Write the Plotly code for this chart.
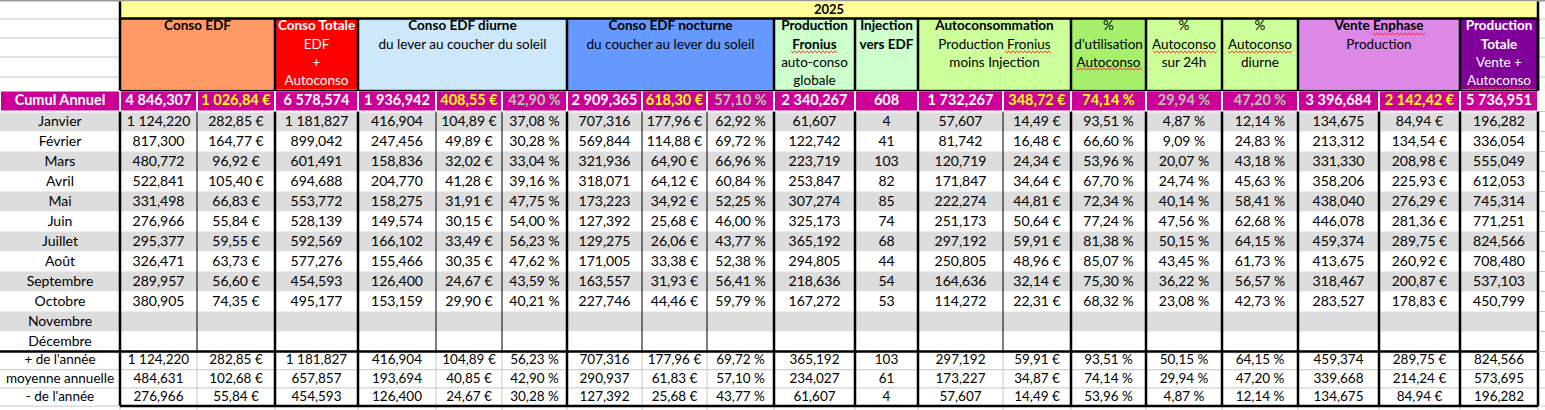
import plotly.graph_objects as go

# ---------------- data (read from the sheet) ----------------
months = ["Janvier", "Février", "Mars", "Avril", "Mai", "Juin", "Juillet",
          "Août", "Septembre", "Octobre", "Novembre", "Décembre"]

conso_edf_kwh = [1124.220, 817.300, 480.772, 522.841, 331.498, 276.966, 295.377, 326.471, 289.957, 380.905]
conso_edf_eur = [282.85, 164.77, 96.92, 105.40, 66.83, 55.84, 59.55, 63.73, 56.60, 74.35]
conso_totale = [1181.827, 899.042, 601.491, 694.688, 553.772, 528.139, 592.569, 577.276, 454.593, 495.177]
diurne_kwh = [416.904, 247.456, 158.836, 204.770, 158.275, 149.574, 166.102, 155.466, 126.400, 153.159]
diurne_eur = [104.89, 49.89, 32.02, 41.28, 31.91, 30.15, 33.49, 30.35, 24.67, 29.90]
diurne_pct = [37.08, 30.28, 33.04, 39.16, 47.75, 54.00, 56.23, 47.62, 43.59, 40.21]
nocturne_kwh = [707.316, 569.844, 321.936, 318.071, 173.223, 127.392, 129.275, 171.005, 163.557, 227.746]
nocturne_eur = [177.96, 114.88, 64.90, 64.12, 34.92, 25.68, 26.06, 33.38, 31.93, 44.46]
nocturne_pct = [62.92, 69.72, 66.96, 60.84, 52.25, 46.00, 43.77, 52.38, 56.41, 59.79]
prod_fronius = [61.607, 122.742, 223.719, 253.847, 307.274, 325.173, 365.192, 294.805, 218.636, 167.272]
injection = [4, 41, 103, 82, 85, 74, 68, 44, 54, 53]
autoconso_kwh = [57.607, 81.742, 120.719, 171.847, 222.274, 251.173, 297.192, 250.805, 164.636, 114.272]
autoconso_eur = [14.49, 16.48, 24.34, 34.64, 44.81, 50.64, 59.91, 48.96, 32.14, 22.31]
utilisation_pct = [93.51, 66.60, 53.96, 67.70, 72.34, 77.24, 81.38, 85.07, 75.30, 68.32]
autoconso_24h_pct = [4.87, 9.09, 20.07, 24.74, 40.14, 47.56, 50.15, 43.45, 36.22, 23.08]
autoconso_diurne_pct = [12.14, 24.83, 43.18, 45.63, 58.41, 62.68, 64.15, 61.73, 56.57, 42.73]
vente_kwh = [134.675, 213.312, 331.330, 358.206, 438.040, 446.078, 459.374, 413.675, 318.467, 283.527]
vente_eur = [84.94, 134.54, 208.98, 225.93, 276.29, 281.36, 289.75, 260.92, 200.87, 178.83]
prod_totale = [196.282, 336.054, 555.049, 612.053, 745.314, 771.251, 824.566, 708.480, 537.103, 450.799]

cumul_annuel = [4846.307, 1026.84, 6578.574, 1936.942, 408.55, 42.90, 2909.365, 618.30, 57.10,
                2340.267, 608, 1732.267, 348.72, 74.14, 29.94, 47.20, 3396.684, 2142.42, 5736.951]
plus_annee = [1124.220, 282.85, 1181.827, 416.904, 104.89, 56.23, 707.316, 177.96, 69.72,
              365.192, 103, 297.192, 59.91, 93.51, 50.15, 64.15, 459.374, 289.75, 824.566]
moyenne_annuelle = [484.631, 102.68, 657.857, 193.694, 40.85, 42.90, 290.937, 61.83, 57.10,
                    234.027, 61, 173.227, 34.87, 74.14, 29.94, 47.20, 339.668, 214.24, 573.695]
moins_annee = [276.966, 55.84, 454.593, 126.400, 24.67, 30.28, 127.392, 25.68, 43.77,
               61.607, 4, 57.607, 14.49, 53.96, 4.87, 12.14, 134.675, 84.94, 196.282]
stat_labels = ["+ de l'année", "moyenne annuelle", "- de l'année"]

year_label = "2025"
header_lines = [
    [("Conso EDF", True)],
    [("Conso Totale", True), ("EDF", False), ("+", False), ("Autoconso", False)],
    [("Conso EDF diurne", True), ("du lever au coucher du soleil", False)],
    [("Conso EDF nocturne", True), ("du coucher au lever du soleil", False)],
    [("Production", True), ("Fronius", True), ("auto-conso", False), ("globale", False)],
    [("Injection", True), ("vers EDF", True)],
    [("Autoconsommation", True), ("Production Fronius", False), ("moins Injection", False)],
    [("%", False), ("d’utilisation", False), ("Autoconso", False)],
    [("%", False), ("Autoconso", False), ("sur 24h", False)],
    [("%", False), ("Autoconso", False), ("diurne", False)],
    [("Vente Enphase", True), ("Production", False)],
    [("Production", True), ("Totale", True), ("Vente +", False), ("Autoconso", False)],
]

columns = [conso_edf_kwh, conso_edf_eur, conso_totale, diurne_kwh, diurne_eur, diurne_pct,
           nocturne_kwh, nocturne_eur, nocturne_pct, prod_fronius, injection,
           autoconso_kwh, autoconso_eur, utilisation_pct, autoconso_24h_pct,
           autoconso_diurne_pct, vente_kwh, vente_eur, prod_totale]
kinds = ["kwh", "eur", "kwh", "kwh", "eur", "pct", "kwh", "eur", "pct", "kwh", "int",
         "kwh", "eur", "pct", "pct", "pct", "kwh", "eur", "kwh"]

# ---------------- layout / style ----------------
W, H = 1545, 410
FONT = "Lato"
LABEL_W = 120
col_edges = [120, 197, 275, 358, 436, 502, 567, 642, 707, 774, 855, 918, 1003,
             1071, 1146, 1222, 1298, 1379, 1460, 1538]
group_spans = [2, 1, 3, 3, 1, 1, 2, 1, 1, 1, 2, 1]
group_bg = ["#ff9966", "#ff0000", "#cce8fa", "#6699ff", "#ccffcc", "#ccffcc",
            "#ccff99", "#a6f06b", "#ccff99", "#ccff99", "#dd88e6", "#800099"]
group_fg = ["black", "white", "black", "black", "black", "black",
            "black", "black", "black", "black", "black", "white"]
thin_inside = {197, 436, 502, 642, 707, 1003}

# spell-check squiggles under some header words: (x0, x1, y)
squiggles = [(791, 837, 52), (1005, 1052, 52), (1076, 1142, 69), (1153, 1217, 52),
             (1228, 1293, 52), (1373, 1425, 34), (1467, 1531, 88)]

Y_YEAR = (1.5, 18.5)
Y_HEAD = (18.5, 90.5)
Y_CUMUL = (90.5, 111.5)
MONTH_TOP, MONTH_H = 111.5, 20
STAT_TOP = MONTH_TOP + MONTH_H * len(months)
STAT_H = 18.2
STAT_BOT = STAT_TOP + STAT_H * len(stat_labels)
MAGENTA = "#cc0099"
BAND = "#dddddd"
GRID = "#c6c6c6"


def fmt(v, kind):
    if v is None:
        return ""
    if kind == "int":
        return str(int(v))
    if kind == "kwh":
        s = f"{v:,.3f}"
    else:
        s = f"{v:,.2f}"
    s = s.replace(",", " ").replace(".", ",")
    if kind == "eur":
        s += " €"
    elif kind == "pct":
        s += " %"
    return s


def col_center(i):
    return (col_edges[i] + col_edges[i + 1]) / 2


shapes = []


def rect(x0, y0, x1, y1, fill, lc=None, lw=0):
    shapes.append(dict(type="rect", xref="x", yref="y", x0=x0, y0=y0, x1=x1, y1=y1,
                       fillcolor=fill, line=dict(color=lc or fill, width=lw), layer="below"))


def line(x0, y0, x1, y1, color, width):
    shapes.append(dict(type="line", xref="x", yref="y", x0=x0, y0=y0, x1=x1, y1=y1,
                       line=dict(color=color, width=width), layer="below"))


fig = go.Figure()

# top spreadsheet edge + label column grid in header area
rect(0, 0, W, 1.5, "#9a9a9a")
for yy in [19, 38, 57, 77]:
    line(0, yy, LABEL_W, yy, GRID, 1)
    line(1539, yy, W, yy, GRID, 1)

# year row
rect(LABEL_W, Y_YEAR[0], col_edges[-1], Y_YEAR[1], "#ffff99")

# header groups
group_x = []
k = 0
for span, bg in zip(group_spans, group_bg):
    x0, x1 = col_edges[k], col_edges[k + span]
    rect(x0, Y_HEAD[0], x1, Y_HEAD[1], bg)
    group_x.append((x0, x1))
    k += span

# month bands
for i, m in enumerate(months):
    y0 = MONTH_TOP + i * MONTH_H
    fill = BAND if i % 2 == 0 else "white"
    rect(0, y0, col_edges[-1], y0 + MONTH_H, fill)
    line(1539, y0, W, y0, GRID, 1)

# cumul row cells
rect(0, Y_CUMUL[0], LABEL_W, Y_CUMUL[1], MAGENTA, "white", 2)
for i in range(len(columns)):
    rect(col_edges[i], Y_CUMUL[0], col_edges[i + 1], Y_CUMUL[1], MAGENTA, "white", 2)

# year / header borders
line(LABEL_W, Y_YEAR[0], LABEL_W, Y_HEAD[1], "black", 2.5)
line(col_edges[-1], Y_YEAR[0], col_edges[-1], Y_HEAD[1], "black", 2.5)
line(LABEL_W, Y_YEAR[1], col_edges[-1], Y_YEAR[1], "black", 2.5)
line(LABEL_W, Y_HEAD[1], col_edges[-1], Y_HEAD[1], "black", 1.5)
for x0, x1 in group_x:
    line(x1, Y_HEAD[0], x1, Y_HEAD[1], "black", 2.5)

# month section verticals
for x in col_edges:
    thin = x in thin_inside
    line(x, Y_CUMUL[1], x, STAT_TOP, "black", 1 if thin else 2.5)

# stat section
for j in range(1, len(stat_labels)):
    yy = STAT_TOP + j * STAT_H
    line(0, yy, col_edges[-1], yy, GRID, 1)
for x in col_edges:
    thin = x in thin_inside
    line(x, STAT_TOP, x, STAT_BOT, GRID if thin else "black", 1 if thin else 2.5)
    line(x, STAT_BOT, x, H, GRID, 1)
line(0, STAT_TOP, col_edges[-1], STAT_TOP, "black", 2.5)
line(LABEL_W, STAT_BOT, col_edges[-1], STAT_BOT, "black", 2.5)
line(0, STAT_BOT, LABEL_W, STAT_BOT, GRID, 1)
for j in range(len(stat_labels) + 1):
    yy = STAT_TOP + j * STAT_H
    line(1539, yy, W, yy, GRID, 1)

# ---------------- text ----------------
# year
fig.add_trace(go.Scatter(
    x=[(LABEL_W + col_edges[-1]) / 2], y=[sum(Y_YEAR) / 2 + 0.5], mode="text",
    text=[f"<b>{year_label}</b>"], textfont=dict(family=FONT, size=13, color="black"),
    hoverinfo="skip", showlegend=False))

# headers
hx, hy, ht, hc = [], [], [], []
for (x0, x1), lines_, fg in zip(group_x, header_lines, group_fg):
    for n, (txt, bold) in enumerate(lines_):
        hx.append((x0 + x1) / 2)
        hy.append(27 + n * 18.3)
        ht.append(f"<b>{txt}</b>" if bold else txt)
        hc.append(fg)
fig.add_trace(go.Scatter(
    x=hx, y=hy, mode="text", text=ht, textfont=dict(family=FONT, size=13.5, color=hc),
    hoverinfo="skip", showlegend=False))

# squiggles
for x0, x1, yy in squiggles:
    n = int((x1 - x0) / 2)
    xs = [x0 + 2 * t for t in range(n + 1)]
    ys = [yy + (1.2 if t % 2 else -1.2) for t in range(n + 1)]
    fig.add_trace(go.Scatter(x=xs, y=ys, mode="lines", line=dict(color="#ff2020", width=0.8),
                             hoverinfo="skip", showlegend=False))

# cumul row
cumul_colors = []
for i, kd in enumerate(kinds):
    if kd == "eur" or i == 13:
        cumul_colors.append("#ffff00")
    elif kd == "pct":
        cumul_colors.append("#b3c8a9")
    else:
        cumul_colors.append("white")
cy = sum(Y_CUMUL) / 2 + 0.5
fig.add_trace(go.Scatter(
    x=[LABEL_W / 2] + [col_center(i) for i in range(len(columns))],
    y=[cy] * (len(columns) + 1), mode="text",
    text=["<b>Cumul Annuel</b>"] + [f"<b>{fmt(v, kd)}</b>" for v, kd in zip(cumul_annuel, kinds)],
    textfont=dict(family=FONT, size=14.5, color=["white"] + cumul_colors),
    hoverinfo="skip", showlegend=False))

# month rows
mx, my, mt = [], [], []
for r, m in enumerate(months):
    yc = MONTH_TOP + r * MONTH_H + MONTH_H / 2 + 0.5
    mx.append(LABEL_W / 2)
    my.append(yc)
    mt.append(m)
    for i, (vals, kd) in enumerate(zip(columns, kinds)):
        v = vals[r] if r < len(vals) else None
        mx.append(col_center(i))
        my.append(yc)
        mt.append(fmt(v, kd))
fig.add_trace(go.Scatter(
    x=mx, y=my, mode="text", text=mt, textfont=dict(family=FONT, size=14, color="black"),
    hoverinfo="skip", showlegend=False))

# stat rows
sx, sy, st = [], [], []
for r, (lab, vals) in enumerate(zip(stat_labels, [plus_annee, moyenne_annuelle, moins_annee])):
    yc = STAT_TOP + r * STAT_H + STAT_H / 2 + 0.5
    sx.append(LABEL_W / 2)
    sy.append(yc)
    st.append(lab)
    for i, (v, kd) in enumerate(zip(vals, kinds)):
        sx.append(col_center(i))
        sy.append(yc)
        st.append(fmt(v, kd))
fig.add_trace(go.Scatter(
    x=sx, y=sy, mode="text", text=st, textfont=dict(family=FONT, size=13.5, color="black"),
    hoverinfo="skip", showlegend=False))

fig.update_layout(
    width=W, height=H,
    margin=dict(l=0, r=0, t=0, b=0),
    paper_bgcolor="white", plot_bgcolor="white",
    xaxis=dict(range=[0, W], visible=False, fixedrange=True),
    yaxis=dict(range=[H, 0], visible=False, fixedrange=True),
    shapes=shapes,
)

# the page has the browser's default body margin; drop it so the sheet sits at 0,0
fig.write_html("out.html", config={"displayModeBar": False},
               post_script="document.body.style.margin='0';document.body.style.overflow='hidden';")
